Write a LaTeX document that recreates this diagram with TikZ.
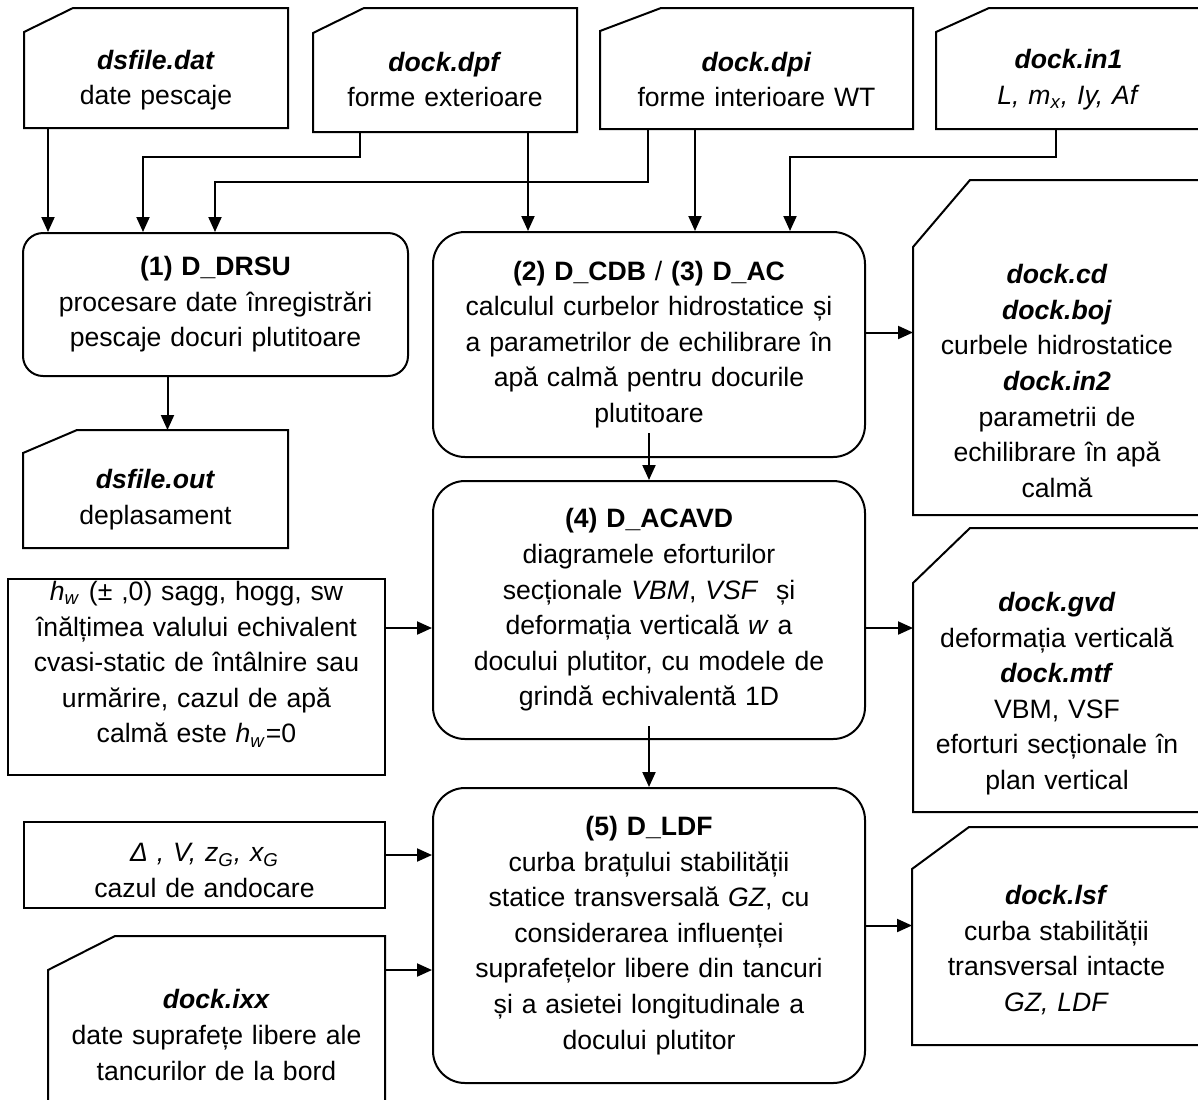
\documentclass[tikz,border=0pt]{standalone}
\usepackage{fontspec}
\setmainfont{Liberation Sans}
\usetikzlibrary{arrows.meta}

% file symbol: rectangle with the upper left corner cut off
\newcommand{\docoutline}[3]{%
  \draw ([yshift=-#3]#1.north west) -- ([xshift=#2]#1.north west)
    -- (#1.north east) -- (#1.south east) -- (#1.south west) -- cycle;
}
% extra room above the first line / below the last line
\newcommand{\topgap}[1]{\rule{0pt}{\dimexpr 9.7pt+#1\relax}}
\newcommand{\botgap}[1]{\rule[-#1]{0pt}{#1}}

\begin{document}
\begin{tikzpicture}[
  x=0.5pt, y=-0.5pt,
  font=\fontsize{13.3}{17.8}\selectfont,
  line width=1pt,
  >={Triangle[length=7.5pt, width=6.5pt]},
  boxsize/.style 2 args={minimum width=#1, text width=#1, minimum height=#2},
  proc/.style={draw, rounded corners=16pt, align=center, inner sep=0pt},
  datbox/.style={draw, align=center, inner sep=0pt},
  file/.style={align=center, inner sep=0pt, outer sep=0pt}
]
\useasboundingbox (0,0) rectangle (1198,1099);

% input files
\node[file, boxsize={132pt}{60pt}] (dat) at (156,68) {\topgap{12pt}%
  \textbf{\textit{dsfile.dat}}\\ date pescaje};
\node[file, boxsize={132pt}{62pt}] (dpf) at (445,70) {\topgap{9.5pt}%
  \textbf{\textit{dock.dpf}}\\ forme exterioare};
\node[file, boxsize={156.5pt}{60.5pt}] (dpi) at (756.5,68.5) {\topgap{11pt}%
  \textbf{\textit{dock.dpi}}\\ forme interioare WT};
\node[file, boxsize={132.5pt}{60.5pt}] (in1) at (1068.5,68.5) {\topgap{11pt}%
  \textbf{\textit{dock.in1}}\\ \textit{L, m\textsubscript{x}, Iy, Af}};
\docoutline{dat}{24.5pt}{12pt}
\docoutline{dpf}{25.5pt}{12.5pt}
\docoutline{dpi}{30.5pt}{11.5pt}
\docoutline{in1}{26.5pt}{12pt}

% programs
\node[proc, rounded corners=10pt, boxsize={192.5pt}{71.5pt}] (drsu) at (215.5,304.5) {%
  \textbf{(1) D\_DRSU}\\ procesare date înregistrări\\ pescaje docuri plutitoare};
\node[proc, boxsize={216pt}{112.5pt}] (cdb) at (649,344.5) {%
  \textbf{(2) D\_CDB} / \textbf{(3) D\_AC}\\ calculul curbelor hidrostatice și\\
  a parametrilor de echilibrare în\\ apă calmă pentru docurile\\ plutitoare};
\node[proc, boxsize={216pt}{129pt}] (acavd) at (649,610) {%
  \textbf{(4) D\_ACAVD}\\ diagramele eforturilor\\
  secționale \textit{VBM}, \textit{VSF}~ și\\ deformația verticală \textit{w} a\\
  docului plutitor, cu modele de\\ grindă echivalentă 1D};
\node[proc, boxsize={216pt}{147.5pt}] (ldf) at (649,935.5) {%
  \textbf{(5) D\_LDF}\\ curba brațului stabilității\\
  statice transversală \textit{GZ}, cu\\ considerarea influenței\\
  suprafețelor libere din tancuri\\ și a asietei longitudinale a\\ docului plutitor};

% output files
\node[file, boxsize={132.5pt}{59pt}] (out) at (155.5,489) {\topgap{10.5pt}%
  \textbf{\textit{dsfile.out}}\\ deplasament};
\node[file, boxsize={144pt}{167.5pt}] (cd) at (1057,347.5) {\topgap{33.5pt}%
  \textbf{\textit{dock.cd}}\\ \textbf{\textit{dock.boj}}\\ curbele hidrostatice\\
  \textbf{\textit{dock.in2}}\\ parametrii de\\ echilibrare în apă\\ calmă};
\node[file, boxsize={144pt}{142pt}] (gvd) at (1057,670) {\topgap{23.5pt}%
  \textbf{\textit{dock.gvd}}\\ deformația verticală\\ \textbf{\textit{dock.mtf}}\\
  VBM, VSF\\ eforturi secționale în\\ plan vertical};
\node[file, boxsize={144.5pt}{109pt}] (lsf) at (1056.5,936) {\topgap{14pt}%
  \textbf{\textit{dock.lsf}}\\ curba stabilității\\ transversal intacte\\ \textit{GZ, LDF}};
\docoutline{out}{27pt}{11.5pt}
\docoutline{cd}{28.5pt}{33.5pt}
\docoutline{gvd}{28.5pt}{27.5pt}
\docoutline{lsf}{28.5pt}{21pt}

% other data
\node[datbox, boxsize={188.5pt}{98pt}] (hw) at (196.5,677) {%
  \textit{h}\textsubscript{\textit{w}} (± ,0) sagg, hogg, sw\\ înălțimea valului echivalent\\
  cvasi-static de întâlnire sau\\ urmărire, cazul de apă\\
  calmă este \textit{h}\textsubscript{\textit{w}}=0\botgap{15pt}};
\node[datbox, boxsize={180.5pt}{43pt}] (delta) at (204.5,865) {\topgap{5pt}%
  \textit{Δ , V, z\textsubscript{G}, x\textsubscript{G}}\\ cazul de andocare};
\node[file, boxsize={168.5pt}{82.5pt}] (ixx) at (216.5,1018.5) {\topgap{16.5pt}%
  \textbf{\textit{dock.ixx}}\\ date suprafețe libere ale\\ tancurilor de la bord};
\docoutline{ixx}{33.5pt}{17pt}

% flow into (1) and (2)
\draw[->] ([xshift=12pt]dat.south west) -- ([xshift=12pt]dat.south west |- drsu.north);
\draw[->] ([xshift=23.5pt]dpf.south west) -- ++(0,25) -| ([xshift=60.5pt]drsu.north west);
\draw[->] ([xshift=24pt]dpi.south west) -- ++(0,53) -| ([xshift=96.5pt]drsu.north west);
\draw[->] ([xshift=107.5pt]dpf.south west) -- ([xshift=107.5pt]dpf.south west |- cdb.north);
\draw[->] ([xshift=47.5pt]dpi.south west) -- ([xshift=47.5pt]dpi.south west |- cdb.north);
\draw[->] ([xshift=60pt]in1.south west) -- ++(0,28) -| ([xshift=179pt]cdb.north west);

% program chain
\draw[->] ([xshift=6pt]out.north |- drsu.south) -- ([xshift=6pt]out.north);
\draw[->] ([yshift=12.5pt]cdb.south) -- (acavd.north);
\draw[->] ([yshift=7pt]acavd.south) -- (ldf.north);

% side inputs and outputs
\draw[->] ([yshift=6pt]cdb.east) -- ([yshift=6pt]cdb.east -| cd.west);
\draw[->] ([yshift=-9pt]acavd.west -| hw.east) -- ([yshift=-9pt]acavd.west);
\draw[->] ([yshift=-9pt]acavd.east) -- ([yshift=-9pt]acavd.east -| gvd.west);
\draw[->] ([yshift=5pt]delta.east) -- ([yshift=5pt]delta.east -| ldf.west);
\draw[->] ([yshift=-17pt]ixx.north east) -- ([yshift=-17pt]ixx.north east -| ldf.west);
\draw[->] ([yshift=5pt]ldf.east) -- ([yshift=5pt]ldf.east -| lsf.west);

\end{tikzpicture}
\end{document}
